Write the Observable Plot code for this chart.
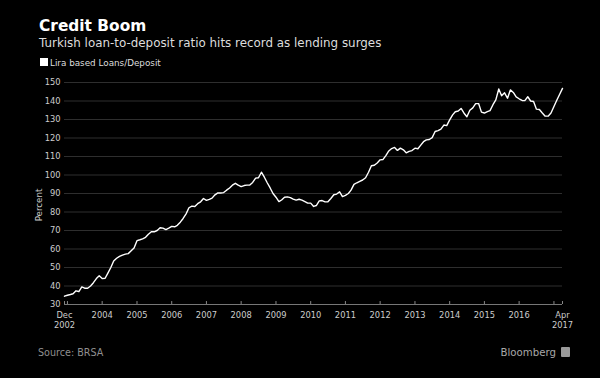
<!DOCTYPE html>
<html>
<head>
<meta charset="utf-8">
<script src="https://cdn.jsdelivr.net/npm/d3@7"></script>
<script src="https://cdn.jsdelivr.net/npm/@observablehq/plot@0.6"></script>
<style>
  html, body { margin: 0; padding: 0; background: #000; }
  #page { position: relative; width: 600px; height: 378px; background: #000; overflow: hidden; font-family: "DejaVu Sans", sans-serif; }
  .abs { position: absolute; white-space: nowrap; line-height: 1; }
  #header { position: relative; height: 72px; }
  #footer { position: relative; height: 44px; }
  #chart svg { display: block; }
</style>
</head>
<body>
<div id="page">
  <div id="header">
    <div class="abs" id="title" style="left:39px; top:18.5px; font-size:15.4px; font-weight:bold; color:#fff;"></div>
    <div class="abs" id="subtitle" style="left:39px; top:38.2px; font-size:11.9px; color:#ddd;"></div>
    <div class="abs" style="left:39.5px; top:58.3px; width:8px; height:8px; background:#fff;"></div>
    <div class="abs" id="legend" style="left:50px; top:58.5px; font-size:8.8px; color:#ddd;"></div>
  </div>
  <div id="chart"></div>
  <div id="footer">
    <div class="abs" id="source" style="left:38px; top:14px; font-size:9.6px; color:#8f8f8f;"></div>
    <div class="abs" id="brand" style="left:500.5px; top:13.5px; font-size:10.2px; color:#a8a8a8;"></div>
    <div class="abs" style="left:561px; top:12.5px; width:9px; height:10px; background:#9a9a9a; border-radius:1px;"></div>
  </div>
  <div class="abs" id="ylabel" style="left:39px; top:205px; font-size:8.7px; color:#ccc; transform: translate(-50%,-50%) rotate(-90deg);"></div>
</div>
<script>
// ---- Texts ----
const titleText = "Credit Boom";
const subtitleText = "Turkish loan-to-deposit ratio hits record as lending surges";
const legendText = "Lira based Loans/Deposit";
const sourceText = "Source: BRSA";
const brandText = "Bloomberg";
const yLabelText = "Percent";

// ---- Data: monthly Lira based loans/deposit ratio (%), Dec 2002 .. Apr 2017 ----
const startYear = 2002;
const startMonth = 11; // December (0-based)
const ratio = [
  // Dec 2002
  34.5,
  // 2003
  35.0, 35.4, 35.8, 37.4, 37.0, 39.5, 38.8, 38.8, 40.0, 41.8, 44.0, 45.5,
  // 2004
  44.0, 44.2, 47.0, 50.0, 53.5, 55.0, 56.0, 56.7, 57.2, 57.5, 59.0, 60.5,
  // 2005
  64.5, 65.0, 65.5, 66.3, 68.0, 69.3, 69.3, 70.0, 71.5, 71.3, 70.5, 71.3,
  // 2006
  72.2, 72.0, 72.8, 74.5, 76.5, 79.0, 82.3, 83.2, 83.0, 84.5, 85.5, 87.3,
  // 2007
  86.3, 86.8, 87.5, 89.3, 90.3, 90.3, 90.5, 91.8, 93.0, 94.5, 95.5, 94.5,
  // 2008
  93.7, 94.3, 94.5, 94.6, 96.0, 98.3, 98.5, 101.5, 98.8, 95.8, 93.0, 90.0,
  // 2009
  88.0, 85.6, 86.5, 88.0, 88.2, 87.8, 87.0, 86.4, 86.9, 86.4, 85.6, 84.8,
  // 2010
  84.8, 83.0, 83.5, 86.0, 86.2, 85.5, 85.5, 87.3, 89.3, 89.7, 90.9, 88.3,
  // 2011
  89.0, 90.0, 91.8, 94.9, 95.8, 96.6, 97.3, 98.5, 101.5, 105.0, 105.3, 106.5,
  // 2012
  108.2, 108.4, 110.5, 113.0, 114.3, 114.9, 113.3, 114.5, 113.6, 112.0, 112.8, 113.2,
  // 2013
  114.5, 114.2, 116.0, 118.0, 119.0, 119.2, 120.2, 123.5, 124.0, 124.8, 127.0, 126.7,
  // 2014
  129.8, 132.5, 134.2, 134.6, 136.0, 133.4, 131.5, 135.0, 136.3, 138.6, 138.6, 134.0,
  // 2015
  133.5, 134.3, 134.8, 138.0, 140.6, 146.5, 142.8, 144.4, 141.5, 146.0, 144.6, 142.2,
  // 2016
  141.2, 140.3, 140.2, 142.3, 140.0, 139.7, 135.6, 135.4, 133.5, 131.8, 131.8, 133.5,
  // 2017 Jan..Apr
  137.0, 140.5, 143.5, 146.8
];

const yTicks = [30, 40, 50, 60, 70, 80, 90, 100, 110, 120, 130, 140, 150];
const xLabelTicks = [
  [2002, 11, "Dec\n2002"], [2004, 0, "2004"], [2005, 0, "2005"], [2006, 0, "2006"],
  [2007, 0, "2007"], [2008, 0, "2008"], [2009, 0, "2009"], [2010, 0, "2010"],
  [2011, 0, "2011"], [2012, 0, "2012"], [2013, 0, "2013"], [2014, 0, "2014"],
  [2015, 0, "2015"], [2016, 0, "2016"], [2017, 3, "Apr\n2017"]
];
const xMarkYears = [2003, 2004, 2005, 2006, 2007, 2008, 2009, 2010, 2011, 2012, 2013, 2014, 2015, 2016, 2017];

// ---- Build tables ----
const data = ratio.map((v, i) => ({ date: new Date(Date.UTC(startYear, startMonth + i, 1)), value: v }));
const labelDates = xLabelTicks.map(([y, m]) => new Date(Date.UTC(y, m, 1)));
const labelMap = new Map(xLabelTicks.map(([y, m, t]) => [Date.UTC(y, m, 1), t]));
const markDates = [new Date(Date.UTC(2002, 11, 1)), ...xMarkYears.map(y => new Date(Date.UTC(y, 0, 1))), new Date(Date.UTC(2017, 3, 1))];

document.getElementById("title").textContent = titleText;
document.getElementById("subtitle").textContent = subtitleText;
document.getElementById("legend").textContent = legendText;
document.getElementById("source").textContent = sourceText;
document.getElementById("brand").textContent = brandText;
document.getElementById("ylabel").textContent = yLabelText;

const chart = Plot.plot({
  width: 600,
  height: 262,
  marginTop: 10,
  marginBottom: 30,
  marginLeft: 64,
  marginRight: 38,
  style: { background: "#000", color: "#ccc", fontFamily: "DejaVu Sans, sans-serif", fontSize: "8.3px" },
  x: { type: "utc", domain: [new Date(Date.UTC(2002, 11, 1)), new Date(Date.UTC(2017, 3, 1))] },
  y: { domain: [30, 150] },
  marks: [
    Plot.ruleY(yTicks.slice(1), { stroke: "#2e2e2e", strokeWidth: 1 }),
    Plot.ruleY([30], { stroke: "#777", strokeWidth: 1 }),
    Plot.ruleX(markDates, { y1: 30, y2: 31.6, stroke: "#888", strokeWidth: 1 }),
    Plot.axisY(yTicks, { tickSize: 0, tickPadding: 4, label: null, fill: "#ccc", fontSize: 8.3 }),
    Plot.axisX(labelDates, { tickSize: 0, tickPadding: 7, label: null, fill: "#ccc", fontSize: 8.3, lineHeight: 1.15,
      tickFormat: d => labelMap.get(+d) }),
    Plot.lineY(data, { x: "date", y: "value", stroke: "#fff", strokeWidth: 1.4 })
  ]
});
document.getElementById("chart").appendChild(chart);
</script>
</body>
</html>
